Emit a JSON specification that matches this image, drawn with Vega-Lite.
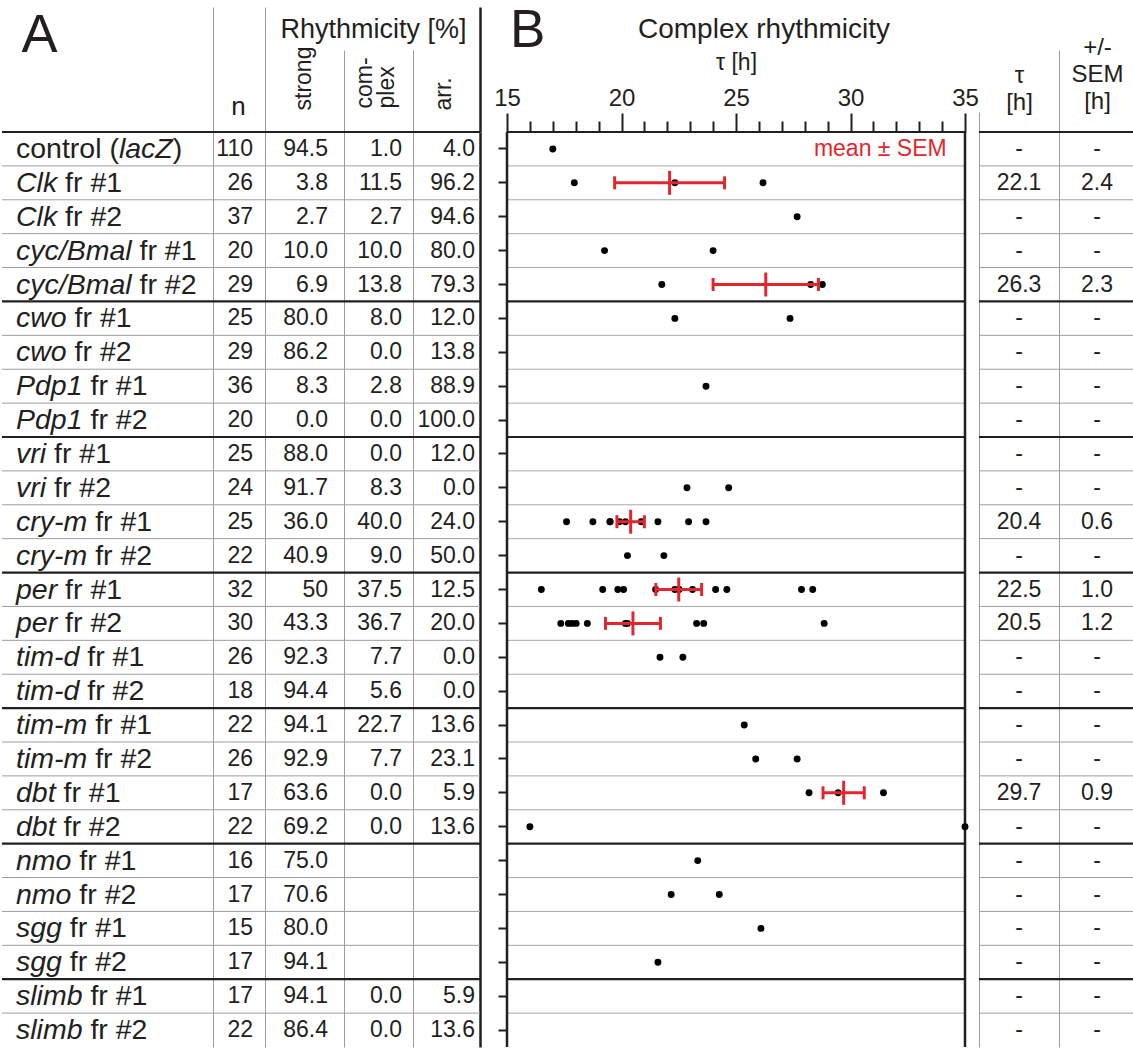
{
  "$schema": "https://vega.github.io/schema/vega-lite/v6.json",
  "padding": {"left": 0, "top": 5, "right": 0, "bottom": 0},
  "background": "white",
  "spacing": 0,
  "bounds": "flush",
  "config": {
    "view": {"stroke": null},
    "font": "Liberation Sans",
    "title": {"font": "Liberation Sans", "fontWeight": "normal", "color": "#231f20"},
    "axis": {"labelFont": "Liberation Sans", "titleFont": "Liberation Sans", "titleFontWeight": "normal", "titleColor": "#231f20", "labelColor": "#231f20"},
    "text": {"font": "Liberation Sans", "color": "#231f20"}
  },
  "datasets": {
    "rows": [
      {"row": "control (lacZ)", "pre": "control (", "gene": "lacZ", "post": ")", "n": 110, "strong": "94.5", "complex": "1.0", "arr": "4.0", "tau": "-", "sem": "-"},
      {"row": "Clk fr #1", "pre": "", "gene": "Clk", "post": " fr #1", "n": 26, "strong": "3.8", "complex": "11.5", "arr": "96.2", "tau": "22.1", "sem": "2.4"},
      {"row": "Clk fr #2", "pre": "", "gene": "Clk", "post": " fr #2", "n": 37, "strong": "2.7", "complex": "2.7", "arr": "94.6", "tau": "-", "sem": "-"},
      {"row": "cyc/Bmal fr #1", "pre": "", "gene": "cyc/Bmal", "post": " fr #1", "n": 20, "strong": "10.0", "complex": "10.0", "arr": "80.0", "tau": "-", "sem": "-"},
      {"row": "cyc/Bmal fr #2", "pre": "", "gene": "cyc/Bmal", "post": " fr #2", "n": 29, "strong": "6.9", "complex": "13.8", "arr": "79.3", "tau": "26.3", "sem": "2.3"},
      {"row": "cwo fr #1", "pre": "", "gene": "cwo", "post": " fr #1", "n": 25, "strong": "80.0", "complex": "8.0", "arr": "12.0", "tau": "-", "sem": "-"},
      {"row": "cwo fr #2", "pre": "", "gene": "cwo", "post": " fr #2", "n": 29, "strong": "86.2", "complex": "0.0", "arr": "13.8", "tau": "-", "sem": "-"},
      {"row": "Pdp1 fr #1", "pre": "", "gene": "Pdp1", "post": " fr #1", "n": 36, "strong": "8.3", "complex": "2.8", "arr": "88.9", "tau": "-", "sem": "-"},
      {"row": "Pdp1 fr #2", "pre": "", "gene": "Pdp1", "post": " fr #2", "n": 20, "strong": "0.0", "complex": "0.0", "arr": "100.0", "tau": "-", "sem": "-"},
      {"row": "vri fr #1", "pre": "", "gene": "vri", "post": " fr #1", "n": 25, "strong": "88.0", "complex": "0.0", "arr": "12.0", "tau": "-", "sem": "-"},
      {"row": "vri fr #2", "pre": "", "gene": "vri", "post": " fr #2", "n": 24, "strong": "91.7", "complex": "8.3", "arr": "0.0", "tau": "-", "sem": "-"},
      {"row": "cry-m fr #1", "pre": "", "gene": "cry-m", "post": " fr #1", "n": 25, "strong": "36.0", "complex": "40.0", "arr": "24.0", "tau": "20.4", "sem": "0.6"},
      {"row": "cry-m fr #2", "pre": "", "gene": "cry-m", "post": " fr #2", "n": 22, "strong": "40.9", "complex": "9.0", "arr": "50.0", "tau": "-", "sem": "-"},
      {"row": "per fr #1", "pre": "", "gene": "per", "post": " fr #1", "n": 32, "strong": "50", "complex": "37.5", "arr": "12.5", "tau": "22.5", "sem": "1.0"},
      {"row": "per fr #2", "pre": "", "gene": "per", "post": " fr #2", "n": 30, "strong": "43.3", "complex": "36.7", "arr": "20.0", "tau": "20.5", "sem": "1.2"},
      {"row": "tim-d fr #1", "pre": "", "gene": "tim-d", "post": " fr #1", "n": 26, "strong": "92.3", "complex": "7.7", "arr": "0.0", "tau": "-", "sem": "-"},
      {"row": "tim-d fr #2", "pre": "", "gene": "tim-d", "post": " fr #2", "n": 18, "strong": "94.4", "complex": "5.6", "arr": "0.0", "tau": "-", "sem": "-"},
      {"row": "tim-m fr #1", "pre": "", "gene": "tim-m", "post": " fr #1", "n": 22, "strong": "94.1", "complex": "22.7", "arr": "13.6", "tau": "-", "sem": "-"},
      {"row": "tim-m fr #2", "pre": "", "gene": "tim-m", "post": " fr #2", "n": 26, "strong": "92.9", "complex": "7.7", "arr": "23.1", "tau": "-", "sem": "-"},
      {"row": "dbt fr #1", "pre": "", "gene": "dbt", "post": " fr #1", "n": 17, "strong": "63.6", "complex": "0.0", "arr": "5.9", "tau": "29.7", "sem": "0.9"},
      {"row": "dbt fr #2", "pre": "", "gene": "dbt", "post": " fr #2", "n": 22, "strong": "69.2", "complex": "0.0", "arr": "13.6", "tau": "-", "sem": "-"},
      {"row": "nmo fr #1", "pre": "", "gene": "nmo", "post": " fr #1", "n": 16, "strong": "75.0", "complex": "", "arr": "", "tau": "-", "sem": "-"},
      {"row": "nmo fr #2", "pre": "", "gene": "nmo", "post": " fr #2", "n": 17, "strong": "70.6", "complex": "", "arr": "", "tau": "-", "sem": "-"},
      {"row": "sgg fr #1", "pre": "", "gene": "sgg", "post": " fr #1", "n": 15, "strong": "80.0", "complex": "", "arr": "", "tau": "-", "sem": "-"},
      {"row": "sgg fr #2", "pre": "", "gene": "sgg", "post": " fr #2", "n": 17, "strong": "94.1", "complex": "", "arr": "", "tau": "-", "sem": "-"},
      {"row": "slimb fr #1", "pre": "", "gene": "slimb", "post": " fr #1", "n": 17, "strong": "94.1", "complex": "0.0", "arr": "5.9", "tau": "-", "sem": "-"},
      {"row": "slimb fr #2", "pre": "", "gene": "slimb", "post": " fr #2", "n": 22, "strong": "86.4", "complex": "0.0", "arr": "13.6", "tau": "-", "sem": "-"}
    ],
    "dots": [
      {"row": "control (lacZ)", "tau": 17.0},
      {"row": "Clk fr #1", "tau": 17.94}, {"row": "Clk fr #1", "tau": 22.33}, {"row": "Clk fr #1", "tau": 26.18},
      {"row": "Clk fr #2", "tau": 27.67},
      {"row": "cyc/Bmal fr #1", "tau": 19.26}, {"row": "cyc/Bmal fr #1", "tau": 24.0},
      {"row": "cyc/Bmal fr #2", "tau": 21.76}, {"row": "cyc/Bmal fr #2", "tau": 28.26}, {"row": "cyc/Bmal fr #2", "tau": 28.77},
      {"row": "cwo fr #1", "tau": 22.33}, {"row": "cwo fr #1", "tau": 27.36},
      {"row": "Pdp1 fr #1", "tau": 23.69},
      {"row": "vri fr #2", "tau": 22.86}, {"row": "vri fr #2", "tau": 24.68},
      {"row": "cry-m fr #1", "tau": 17.6}, {"row": "cry-m fr #1", "tau": 18.75}, {"row": "cry-m fr #1", "tau": 19.5}, {"row": "cry-m fr #1", "tau": 19.5}, {"row": "cry-m fr #1", "tau": 19.91}, {"row": "cry-m fr #1", "tau": 20.17}, {"row": "cry-m fr #1", "tau": 20.86}, {"row": "cry-m fr #1", "tau": 21.59}, {"row": "cry-m fr #1", "tau": 22.93}, {"row": "cry-m fr #1", "tau": 23.69},
      {"row": "cry-m fr #2", "tau": 20.26}, {"row": "cry-m fr #2", "tau": 21.85},
      {"row": "per fr #1", "tau": 16.5}, {"row": "per fr #1", "tau": 19.18}, {"row": "per fr #1", "tau": 19.84}, {"row": "per fr #1", "tau": 20.09}, {"row": "per fr #1", "tau": 21.49}, {"row": "per fr #1", "tau": 22.33}, {"row": "per fr #1", "tau": 22.52}, {"row": "per fr #1", "tau": 23.1}, {"row": "per fr #1", "tau": 24.11}, {"row": "per fr #1", "tau": 24.6}, {"row": "per fr #1", "tau": 27.86}, {"row": "per fr #1", "tau": 28.35},
      {"row": "per fr #2", "tau": 17.35}, {"row": "per fr #2", "tau": 17.68}, {"row": "per fr #2", "tau": 17.84}, {"row": "per fr #2", "tau": 18.02}, {"row": "per fr #2", "tau": 18.51}, {"row": "per fr #2", "tau": 20.17}, {"row": "per fr #2", "tau": 20.26}, {"row": "per fr #2", "tau": 23.28}, {"row": "per fr #2", "tau": 23.59}, {"row": "per fr #2", "tau": 28.85},
      {"row": "tim-d fr #1", "tau": 21.68}, {"row": "tim-d fr #1", "tau": 22.68},
      {"row": "tim-m fr #1", "tau": 25.36},
      {"row": "tim-m fr #2", "tau": 25.86}, {"row": "tim-m fr #2", "tau": 27.67},
      {"row": "dbt fr #1", "tau": 28.19}, {"row": "dbt fr #1", "tau": 29.46}, {"row": "dbt fr #1", "tau": 31.44},
      {"row": "dbt fr #2", "tau": 16.0}, {"row": "dbt fr #2", "tau": 35.0},
      {"row": "nmo fr #1", "tau": 23.33},
      {"row": "nmo fr #2", "tau": 22.17}, {"row": "nmo fr #2", "tau": 24.27},
      {"row": "sgg fr #1", "tau": 26.09},
      {"row": "sgg fr #2", "tau": 21.59}
    ],
    "means": [
      {"row": "Clk fr #1", "mean": 22.1, "sem": 2.4},
      {"row": "cyc/Bmal fr #2", "mean": 26.3, "sem": 2.3},
      {"row": "cry-m fr #1", "mean": 20.4, "sem": 0.6},
      {"row": "per fr #1", "mean": 22.5, "sem": 1.0},
      {"row": "per fr #2", "mean": 20.5, "sem": 1.2},
      {"row": "dbt fr #1", "mean": 29.7, "sem": 0.9}
    ],
    "legend": [{"row": "control (lacZ)", "note": "mean ± SEM"}]
  },
  "hconcat": [
    {
      "width": 211, "height": 915, "data": {"name": "rows"},
      "layer": [
        {"mark": {"type": "rule"}, "encoding": {
          "y": {"field": "row", "type": "nominal", "sort": null, "bandPosition": 0, "scale": {"type": "band", "paddingInner": 0, "paddingOuter": 0}, "axis": null},
          "color": {"condition": {"test": "indexof(['control (lacZ)','cwo fr #1','vri fr #1','per fr #1','tim-m fr #1','nmo fr #1','slimb fr #1'], datum.row) >= 0", "value": "#231f20"}, "value": "#9d9d9d"},
          "strokeWidth": {"condition": {"test": "indexof(['control (lacZ)','cwo fr #1','vri fr #1','per fr #1','tim-m fr #1','nmo fr #1','slimb fr #1'], datum.row) >= 0", "value": 2.2}, "value": 1}}},
        {"mark": {"type": "text", "align": "left", "dx": 14, "fontSize": 28.5}, "encoding": {
          "y": {"field": "row", "type": "nominal", "sort": null, "scale": {"type": "band", "paddingInner": 0, "paddingOuter": 0}, "axis": null},
          "x": {"datum": 0, "type": "quantitative", "scale": {"domain": [0, 1], "nice": false, "zero": false},
            "axis": {"orient": "top", "values": [1], "labels": false, "domain": false, "ticks": true, "tickSize": 125, "tickColor": "#9d9d9d", "tickWidth": 1, "grid": true, "gridColor": "#9d9d9d", "gridWidth": 1,
              "title": "A", "titleFontSize": 54, "titleX": 19, "titleY": -81, "titleAlign": "left", "titleBaseline": "alphabetic", "titleAngle": 0}},
          "text": {"field": "pre", "type": "nominal"}}},
        {"mark": {"type": "text", "align": "left", "fontStyle": "italic", "fontSize": 28.5,
          "dx": {"expr": "14+28.5*(0.222*length(replace(datum.pre,regexp('[^ijl]','g'),''))+0.278*length(replace(datum.pre,regexp('[^ft/ I.]','g'),''))+0.333*length(replace(datum.pre,regexp('[^r()-]','g'),''))+0.5*length(replace(datum.pre,regexp('[^cksvxyz]','g'),''))+0.556*length(replace(datum.pre,regexp('[^abdeghnopqu0-9#]','g'),''))+0.611*length(replace(datum.pre,regexp('[^Z]','g'),''))+0.667*length(replace(datum.pre,regexp('[^BP]','g'),''))+0.722*length(replace(datum.pre,regexp('[^Cw]','g'),''))+0.833*length(replace(datum.pre,regexp('[^m]','g'),'')))"}},
          "encoding": {
          "y": {"field": "row", "type": "nominal", "sort": null, "scale": {"type": "band", "paddingInner": 0, "paddingOuter": 0}},
          "x": {"datum": 0, "type": "quantitative"},
          "text": {"field": "gene", "type": "nominal"}}},
        {"mark": {"type": "text", "align": "left", "fontSize": 28.5,
          "dx": {"expr": "14+28.5*(0.222*length(replace(datum.pre+datum.gene+replace(datum.post,regexp('[^ ].*$'),''),regexp('[^ijl]','g'),''))+0.278*length(replace(datum.pre+datum.gene+replace(datum.post,regexp('[^ ].*$'),''),regexp('[^ft/ I.]','g'),''))+0.333*length(replace(datum.pre+datum.gene+replace(datum.post,regexp('[^ ].*$'),''),regexp('[^r()-]','g'),''))+0.5*length(replace(datum.pre+datum.gene+replace(datum.post,regexp('[^ ].*$'),''),regexp('[^cksvxyz]','g'),''))+0.556*length(replace(datum.pre+datum.gene+replace(datum.post,regexp('[^ ].*$'),''),regexp('[^abdeghnopqu0-9#]','g'),''))+0.611*length(replace(datum.pre+datum.gene+replace(datum.post,regexp('[^ ].*$'),''),regexp('[^Z]','g'),''))+0.667*length(replace(datum.pre+datum.gene+replace(datum.post,regexp('[^ ].*$'),''),regexp('[^BP]','g'),''))+0.722*length(replace(datum.pre+datum.gene+replace(datum.post,regexp('[^ ].*$'),''),regexp('[^Cw]','g'),''))+0.833*length(replace(datum.pre+datum.gene+replace(datum.post,regexp('[^ ].*$'),''),regexp('[^m]','g'),'')))"}},
          "encoding": {
          "y": {"field": "row", "type": "nominal", "sort": null, "scale": {"type": "band", "paddingInner": 0, "paddingOuter": 0}},
          "x": {"datum": 0, "type": "quantitative"},
          "text": {"field": "post", "type": "nominal"}}}
      ]
    },
    {
      "width": 52, "height": 915, "data": {"name": "rows"},
      "layer": [
        {"mark": {"type": "rule"}, "encoding": {
          "y": {"field": "row", "type": "nominal", "sort": null, "bandPosition": 0, "scale": {"type": "band", "paddingInner": 0, "paddingOuter": 0}, "axis": null},
          "color": {"condition": {"test": "indexof(['control (lacZ)','cwo fr #1','vri fr #1','per fr #1','tim-m fr #1','nmo fr #1','slimb fr #1'], datum.row) >= 0", "value": "#231f20"}, "value": "#9d9d9d"},
          "strokeWidth": {"condition": {"test": "indexof(['control (lacZ)','cwo fr #1','vri fr #1','per fr #1','tim-m fr #1','nmo fr #1','slimb fr #1'], datum.row) >= 0", "value": 2.2}, "value": 1}}},
        {"mark": {"type": "text", "align": "right", "dx": -12, "fontSize": 23}, "encoding": {
          "y": {"field": "row", "type": "nominal", "sort": null, "scale": {"type": "band", "paddingInner": 0, "paddingOuter": 0}, "axis": null},
          "x": {"datum": 1, "type": "quantitative", "scale": {"domain": [0, 1], "nice": false, "zero": false},
            "axis": {"orient": "top", "values": [1], "labels": false, "domain": false, "ticks": true, "tickSize": 125, "tickColor": "#9d9d9d", "tickWidth": 1, "grid": true, "gridColor": "#9d9d9d", "gridWidth": 1,
              "title": "n", "titleFontSize": 26, "titleX": 25, "titleY": -18, "titleAlign": "center", "titleBaseline": "alphabetic", "titleAngle": 0}},
          "text": {"field": "n", "type": "nominal"}}}
      ]
    },
    {
      "width": 79, "height": 915, "data": {"name": "rows"},
      "layer": [
        {"mark": {"type": "rule"}, "encoding": {
          "y": {"field": "row", "type": "nominal", "sort": null, "bandPosition": 0, "scale": {"type": "band", "paddingInner": 0, "paddingOuter": 0}, "axis": null},
          "color": {"condition": {"test": "indexof(['control (lacZ)','cwo fr #1','vri fr #1','per fr #1','tim-m fr #1','nmo fr #1','slimb fr #1'], datum.row) >= 0", "value": "#231f20"}, "value": "#9d9d9d"},
          "strokeWidth": {"condition": {"test": "indexof(['control (lacZ)','cwo fr #1','vri fr #1','per fr #1','tim-m fr #1','nmo fr #1','slimb fr #1'], datum.row) >= 0", "value": 2.2}, "value": 1}}},
        {"mark": {"type": "text", "align": "right", "dx": -16, "fontSize": 23}, "encoding": {
          "y": {"field": "row", "type": "nominal", "sort": null, "scale": {"type": "band", "paddingInner": 0, "paddingOuter": 0}, "axis": null},
          "x": {"datum": 1, "type": "quantitative", "scale": {"domain": [0, 1], "nice": false, "zero": false},
            "axis": {"orient": "top", "values": [1], "labels": false, "domain": false, "ticks": true, "tickSize": 82, "tickColor": "#9d9d9d", "tickWidth": 1, "grid": true, "gridColor": "#9d9d9d", "gridWidth": 1,
              "title": "strong", "titleFontSize": 23, "titleX": 45, "titleY": -22, "titleAlign": "left", "titleBaseline": "alphabetic", "titleAngle": -90}},
          "text": {"field": "strong", "type": "nominal"}}}
      ]
    },
    {
      "width": 69, "height": 915, "data": {"name": "rows"},
      "title": {"text": "Rhythmicity [%]", "anchor": "middle", "fontSize": 27, "baseline": "alphabetic", "offset": -15, "dx": -5, "frame": "group"},
      "layer": [
        {"mark": {"type": "rule"}, "encoding": {
          "y": {"field": "row", "type": "nominal", "sort": null, "bandPosition": 0, "scale": {"type": "band", "paddingInner": 0, "paddingOuter": 0}, "axis": null},
          "color": {"condition": {"test": "indexof(['control (lacZ)','cwo fr #1','vri fr #1','per fr #1','tim-m fr #1','nmo fr #1','slimb fr #1'], datum.row) >= 0", "value": "#231f20"}, "value": "#9d9d9d"},
          "strokeWidth": {"condition": {"test": "indexof(['control (lacZ)','cwo fr #1','vri fr #1','per fr #1','tim-m fr #1','nmo fr #1','slimb fr #1'], datum.row) >= 0", "value": 2.2}, "value": 1}}},
        {"mark": {"type": "text", "align": "right", "dx": -11, "fontSize": 23}, "encoding": {
          "y": {"field": "row", "type": "nominal", "sort": null, "scale": {"type": "band", "paddingInner": 0, "paddingOuter": 0}, "axis": null},
          "x": {"datum": 1, "type": "quantitative", "scale": {"domain": [0, 1], "nice": false, "zero": false},
            "axis": {"orient": "top", "values": [1], "labels": false, "domain": false, "ticks": true, "tickSize": 82, "tickColor": "#9d9d9d", "tickWidth": 1, "grid": true, "gridColor": "#9d9d9d", "gridWidth": 1,
              "title": ["com-", "plex"], "titleFontSize": 23, "titleLineHeight": 22, "titleX": 27, "titleY": -24, "titleAlign": "left", "titleBaseline": "alphabetic", "titleAngle": -90}},
          "text": {"field": "complex", "type": "nominal"}}}
      ]
    },
    {
      "width": 67, "height": 915, "data": {"name": "rows"},
      "layer": [
        {"mark": {"type": "rule"}, "encoding": {
          "y": {"field": "row", "type": "nominal", "sort": null, "bandPosition": 0, "scale": {"type": "band", "paddingInner": 0, "paddingOuter": 0}, "axis": null},
          "color": {"condition": {"test": "indexof(['control (lacZ)','cwo fr #1','vri fr #1','per fr #1','tim-m fr #1','nmo fr #1','slimb fr #1'], datum.row) >= 0", "value": "#231f20"}, "value": "#9d9d9d"},
          "strokeWidth": {"condition": {"test": "indexof(['control (lacZ)','cwo fr #1','vri fr #1','per fr #1','tim-m fr #1','nmo fr #1','slimb fr #1'], datum.row) >= 0", "value": 2.2}, "value": 1}}},
        {"mark": {"type": "text", "align": "right", "dx": -5, "fontSize": 23}, "encoding": {
          "y": {"field": "row", "type": "nominal", "sort": null, "scale": {"type": "band", "paddingInner": 0, "paddingOuter": 0}, "axis": null},
          "x": {"datum": 1, "type": "quantitative", "scale": {"domain": [0, 1], "nice": false, "zero": false},
            "axis": {"orient": "top", "values": [1], "labels": false, "domain": false, "ticks": true, "tickSize": 125, "tickColor": "#231f20", "tickWidth": 2.5, "grid": true, "gridColor": "#231f20", "gridWidth": 2.5,
              "title": "arr.", "titleFontSize": 23, "titleX": 37, "titleY": -22, "titleAlign": "left", "titleBaseline": "alphabetic", "titleAngle": -90}},
          "text": {"field": "arr", "type": "nominal"}}}
      ]
    },
    {
      "width": 27, "height": 915, "data": {"values": [{}]},
      "title": {"text": "B", "anchor": "start", "fontSize": 53, "baseline": "alphabetic", "offset": 32, "dx": 30, "frame": "group"},
      "mark": {"type": "text"},
      "encoding": {"text": {"value": ""}}
    },
    {
      "width": 458, "height": 915,
      "title": {"text": "Complex rhythmicity", "anchor": "middle", "fontSize": 28, "baseline": "alphabetic", "offset": -15, "dx": 28, "frame": "group"},
      "layer": [
        {"data": {"name": "rows"}, "mark": {"type": "rule"}, "encoding": {
          "y": {"field": "row", "type": "nominal", "sort": null, "bandPosition": 0, "scale": {"type": "band", "paddingInner": 0, "paddingOuter": 0},
            "axis": {"orient": "left", "labels": false, "domain": false, "ticks": true, "tickSize": 9, "tickWidth": 2, "tickColor": "#231f20", "grid": false, "title": null}},
          "color": {"condition": {"test": "indexof(['control (lacZ)','cwo fr #1','vri fr #1','per fr #1','tim-m fr #1','nmo fr #1','slimb fr #1'], datum.row) >= 0", "value": "#231f20"}, "value": "#a8a8a8"},
          "strokeWidth": {"condition": {"test": "indexof(['control (lacZ)','cwo fr #1','vri fr #1','per fr #1','tim-m fr #1','nmo fr #1','slimb fr #1'], datum.row) >= 0", "value": 2.2}, "value": 1}}},
        {"data": {"values": [{}]}, "mark": {"type": "rule", "color": "#231f20", "strokeWidth": 2.5}, "encoding": {"x": {"datum": 15, "type": "quantitative"}}},
        {"data": {"values": [{}]}, "mark": {"type": "rule", "color": "#231f20", "strokeWidth": 2.5}, "encoding": {"x": {"datum": 35, "type": "quantitative"}}},
        {"data": {"name": "dots"}, "mark": {"type": "point", "filled": true, "color": "#000000", "size": 48, "opacity": 1}, "encoding": {
          "y": {"field": "row", "type": "nominal", "sort": null, "scale": {"type": "band", "paddingInner": 0, "paddingOuter": 0}},
          "x": {"field": "tau", "type": "quantitative", "scale": {"domain": [15, 35], "nice": false, "zero": false},
            "axis": {"orient": "top", "values": [15,16,17,18,19,20,21,22,23,24,25,26,27,28,29,30,31,32,33,34,35], "tickCount": 30, "format": "d",
              "labelExpr": "datum.value % 5 === 0 ? datum.label : ''", "labelFontSize": 24, "labelPadding": 3, "labelFlush": false, "labelOverlap": false,
              "tickSize": {"condition": {"test": "datum.value % 5 === 0", "value": 19}, "value": 11}, "tickWidth": 2, "tickColor": "#231f20",
              "domain": false, "grid": false, "title": "τ [h]", "titleFontSize": 23, "titlePadding": 12}}}},
        {"data": {"name": "means"}, "mark": {"type": "errorbar", "color": "#e3262e", "thickness": 3, "ticks": {"size": 13, "thickness": 3, "color": "#e3262e", "opacity": 1}}, "encoding": {
          "y": {"field": "row", "type": "nominal", "sort": null, "scale": {"type": "band", "paddingInner": 0, "paddingOuter": 0}},
          "x": {"field": "mean", "type": "quantitative", "title": "τ [h]"},
          "xError": {"field": "sem"}}},
        {"data": {"name": "means"}, "mark": {"type": "tick", "color": "#e3262e", "thickness": 3, "size": 24, "orient": "vertical", "opacity": 1}, "encoding": {
          "y": {"field": "row", "type": "nominal", "sort": null, "scale": {"type": "band", "paddingInner": 0, "paddingOuter": 0}},
          "x": {"field": "mean", "type": "quantitative", "title": "τ [h]"}}},
        {"data": {"name": "legend"}, "mark": {"type": "text", "align": "right", "color": "#e3262e", "fontSize": 23}, "encoding": {
          "y": {"field": "row", "type": "nominal", "sort": null, "scale": {"type": "band", "paddingInner": 0, "paddingOuter": 0}},
          "x": {"datum": 34.2, "type": "quantitative"},
          "text": {"field": "note", "type": "nominal"}}}
      ]
    },
    {
      "width": 14, "height": 915, "data": {"values": [{}]},
      "mark": {"type": "text"},
      "encoding": {"text": {"value": ""}}
    },
    {
      "width": 80, "height": 915, "data": {"name": "rows"},
      "layer": [
        {"mark": {"type": "rule"}, "encoding": {
          "y": {"field": "row", "type": "nominal", "sort": null, "bandPosition": 0, "scale": {"type": "band", "paddingInner": 0, "paddingOuter": 0}, "axis": null},
          "color": {"condition": {"test": "indexof(['control (lacZ)','cwo fr #1','vri fr #1','per fr #1','tim-m fr #1','nmo fr #1','slimb fr #1'], datum.row) >= 0", "value": "#231f20"}, "value": "#9d9d9d"},
          "strokeWidth": {"condition": {"test": "indexof(['control (lacZ)','cwo fr #1','vri fr #1','per fr #1','tim-m fr #1','nmo fr #1','slimb fr #1'], datum.row) >= 0", "value": 2.2}, "value": 1}}},
        {"mark": {"type": "text", "align": "center", "fontSize": 23}, "encoding": {
          "y": {"field": "row", "type": "nominal", "sort": null, "scale": {"type": "band", "paddingInner": 0, "paddingOuter": 0}, "axis": null},
          "x": {"datum": 0.5, "type": "quantitative", "scale": {"domain": [0, 1], "nice": false, "zero": false},
            "axis": {"orient": "top", "values": [0, 1], "labels": false, "domain": false, "ticks": true,
              "tickSize": {"condition": {"test": "datum.value === 0", "value": 20}, "value": 82}, "tickColor": "#9d9d9d", "tickWidth": 1, "grid": true, "gridColor": "#9d9d9d", "gridWidth": 1,
              "title": ["τ", "[h]"], "titleFontSize": 24, "titleLineHeight": 27, "titleX": 40, "titleY": -50, "titleAlign": "center", "titleBaseline": "alphabetic", "titleAngle": 0}},
          "text": {"field": "tau", "type": "nominal"}}}
      ]
    },
    {
      "width": 76, "height": 915, "data": {"name": "rows"},
      "layer": [
        {"mark": {"type": "rule"}, "encoding": {
          "y": {"field": "row", "type": "nominal", "sort": null, "bandPosition": 0, "scale": {"type": "band", "paddingInner": 0, "paddingOuter": 0}, "axis": null},
          "color": {"condition": {"test": "indexof(['control (lacZ)','cwo fr #1','vri fr #1','per fr #1','tim-m fr #1','nmo fr #1','slimb fr #1'], datum.row) >= 0", "value": "#231f20"}, "value": "#9d9d9d"},
          "strokeWidth": {"condition": {"test": "indexof(['control (lacZ)','cwo fr #1','vri fr #1','per fr #1','tim-m fr #1','nmo fr #1','slimb fr #1'], datum.row) >= 0", "value": 2.2}, "value": 1}}},
        {"mark": {"type": "text", "align": "center", "fontSize": 23}, "encoding": {
          "y": {"field": "row", "type": "nominal", "sort": null, "scale": {"type": "band", "paddingInner": 0, "paddingOuter": 0}, "axis": null},
          "x": {"datum": 0.5, "type": "quantitative", "scale": {"domain": [0, 1], "nice": false, "zero": false},
            "axis": {"orient": "top", "values": [1], "labels": false, "domain": false, "ticks": false, "grid": false,
              "title": ["+/-", "SEM", "[h]"], "titleFontSize": 24, "titleLineHeight": 27, "titleX": 38, "titleY": -78, "titleAlign": "center", "titleBaseline": "alphabetic", "titleAngle": 0}},
          "text": {"field": "sem", "type": "nominal"}}}
      ]
    }
  ]
}
